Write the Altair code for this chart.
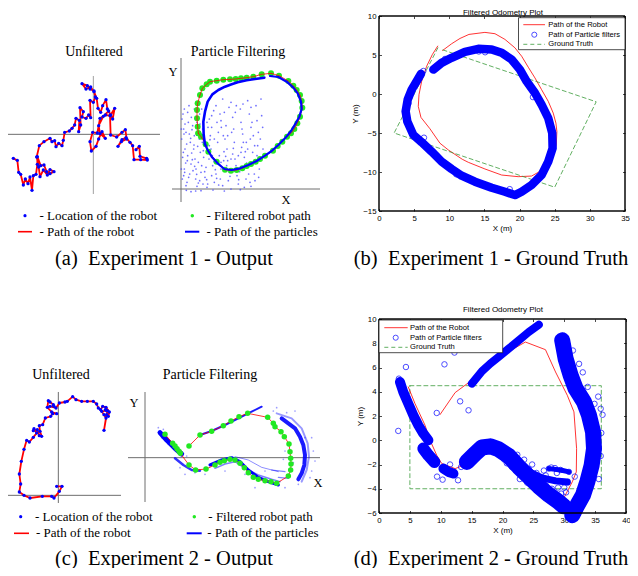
import altair as alt
import pandas as pd

SERIF = "Liberation Serif"
SANS = "Liberation Sans"

# ======================= DATA =======================
# (a) Experiment 1 - Unfiltered odometry (sketch units, origin at axis crossing)
A_UNF_PATH = [(-240,-72),(-228,-78),(-224,-114),(-218,-120),(-210,-152),(-204,-134),(-196,-148),(-190,-128),
    (-184,-168),(-180,-124),(-172,-120),(-168,-90),(-168,-67),(-158,-94),(-148,-92),(-140,-112),(-130,-118),
    (-118,-112),(-130,-106),(-138,-122),(-150,-107),(-160,-127),(-164,-98),(-170,-68),(-162,-34),(-148,-22),
    (-130,-12),(-124,-22),(-116,-19),(-112,-37),(-104,-27),(-94,-34),(-90,-18),(-86,6),(-72,10),(-64,18),
    (-56,28),(-52,48),(-42,42),(-44,8),(-38,28),(-40,80),(-30,68),(-34,52),(-22,48),(-14,58),(-8,50),
    (-10,102),(0,96),(6,112),(2,130),(-10,136),(-18,146),(-34,152),(-22,136),(-8,142),(2,128),(10,108),
    (14,78),(22,66),(28,86),(38,104),(42,76),(52,58),(64,78),(58,46),(46,70),(30,54),(16,26),(20,2),
    (36,-12),(26,8),(16,-14),(8,-36),(-6,-50),(-10,-22),(-2,6),(12,4),(20,48),(36,58),(50,56),(52,-2),
    (70,-8),(86,6),(96,14),(100,-14),(84,-22),(74,-36),(86,-16),(98,-10),(110,-24),(118,-34),(122,-76),
    (142,-76),(162,-77),(160,-72),(140,-66),(138,-36),(128,-46)]
A_UNF_AXES = {"h": [-259, 200], "v": [-179, 175]}

# (a) Particle filtering
A_PF_CLOUD = [(3,210),(8,180),(2,150),(12,120),(5,95),(10,60),(4,30),(15,10),(22,200),(25,165),(28,140),
    (20,100),(30,75),(26,45),(18,20),(35,190),(40,160),(38,120),(42,90),(36,55),(44,30),(48,8),(55,150),
    (58,110),(52,80),(60,50),(56,25),(65,180),(70,130),(68,95),(75,65),(72,35),(80,15),(85,210),(88,160),
    (90,120),(84,90),(95,70),(92,40),(100,20),(105,250),(108,200),(112,170),(110,140),(115,100),(120,60),
    (118,30),(125,10),(130,230),(135,190),(132,150),(138,120),(140,85),(145,50),(142,25),(150,260),
    (155,215),(158,180),(160,140),(155,105),(165,70),(168,40),(172,15),(178,240),(180,200),(185,165),
    (182,125),(190,95),(188,60),(195,30),(200,265),(205,225),(210,185),(208,150),(215,110),(212,75),
    (220,45),(225,250),(228,205),(232,170),(230,130),(238,95),(235,60),(240,270),(242,220),(20,230),
    (10,240),(62,240),(48,200),(98,235),(125,270),(78,5),(60,-5),(30,-8),(150,0),(190,5),(172,100),
    (200,120),(222,25),(15,170),(45,60),(105,45),(128,85),(163,230),(85,130),(32,108),(210,245),
    (66,15),(140,160),(176,52),(196,140),(120,205),(92,185),(50,128),(14,78),(8,40),(228,100),
    (6,225),(12,195),(9,165),(17,135),(7,110),(19,85),(11,50),(23,35),(31,215),(33,178),(29,152),
    (39,132),(34,88),(41,68),(47,44),(52,18),(57,195),(61,165),(64,140),(67,115),(62,70),(71,52),
    (77,28),(81,185),(87,148),(94,100),(99,82),(103,58),(107,32),(113,12),(117,225),(121,185),(127,160),
    (129,112),(134,98),(137,70),(147,38),(152,170),(157,122),(162,90),(167,58),(173,28),(183,180),
    (187,140),(193,112),(197,78),(203,45),(207,20),(213,200),(217,160),(221,130),(226,85),(233,35),
    (238,150),(245,185),(246,120),(166,250),(186,255),(144,245),(92,220),(78,200),(24,250),(1,180),
    (1,60),(16,-4),(44,-6),(96,-3),(130,-6),(178,-2),(210,8),(120,80),(70,160),(150,90),(100,150),
    (180,110),(40,240),(56,225)]
A_PF_ROBOT = [(52,167),(50,187),(48,212),(48,237),(50,257),(57,282),(64,302),(77,314),(87,322),(107,325),
    (127,328),(147,329),(164,330),(180,332),(197,334),(217,337),(242,344),(270,347),(294,340),(322,324),
    (337,310),(347,297),(357,282),(362,264),(364,244),(357,217),(349,197),(340,180),(330,167),(318,157),
    (304,142),(290,129),(276,115),(252,100),(237,90),(224,82),(210,75),(197,69),(184,62),(167,57),
    (150,55),(132,58),(107,82),(82,112),(74,134),(60,157),(52,167)]
A_PF_PART_1 = [(72,134),(68,162),(67,202),(72,232),(80,262),(94,284),(112,297),(132,307),(152,314),
    (170,320),(197,326),(222,330),(250,334)]
A_PF_PART_2 = [(267,339),(292,336),(317,322),(337,304),(350,287),(360,262),(362,240),(355,217),(344,197),
    (330,174),(312,152),(292,132),(272,114),(252,100),(227,84),(202,72),(177,62),(152,57),(130,60),
    (110,77),(92,97),(80,117),(72,134)]
A_PF_AXES = {"h": [-27, 417], "v": [-39, 393]}

# (b) Experiment 1 - Ground truth (metres)
B_ROBOT = [(9.05,5.58),(10.33,6.44),(11.52,7.12),(12.8,7.64),(15.07,7.9),(16.5,7.73),(17.92,7.0),
    (19.34,5.92),(20.29,4.85),(21.24,3.43),(22.19,2.06),(23.13,0.56),(24.08,-0.94),(24.79,-2.45),
    (25.17,-3.73),(25.31,-4.81),(25.22,-6.52),(24.56,-8.24),(23.61,-9.31),(22.66,-10.04),(21.71,-10.52),
    (19.81,-10.6),(17.45,-10.39),(15.07,-9.61),(12.71,-8.76),(11.85,-8.37),(9.86,-7.17),(8.67,-6.31),
    (7.25,-4.46),(5.97,-3.0),(5.59,-1.59),(5.69,-0.09),(6.07,1.63),(6.78,3.56),(7.59,5.06),(8.35,6.14)]
B_PARTICLES = [(7.73,3.13),(8.91,3.99),(10.33,4.64),(12.23,5.41),(14.13,5.79),(16.03,5.71),(17.45,5.28),
    (18.87,4.42),(20.05,3.13),(21.0,1.63),(22.19,0.13),(23.13,-1.37),(24.08,-3.09),(24.65,-5.02),
    (24.7,-6.95),(24.08,-8.67),(23.13,-10.39),(21.71,-11.67),(20.29,-12.53),(19.34,-12.96),(17.92,-12.53),
    (16.03,-12.02),(13.65,-11.24),(11.76,-10.47),(10.33,-9.61),(8.91,-8.67),(7.49,-7.38),(6.07,-6.18),
    (4.88,-5.24),(4.03,-3.52),(3.79,-2.23),(4.08,-0.73),(4.65,0.56),(5.36,1.63),(5.97,2.58)]
B_OUTLIERS = [(6.31,2.95),(24.6,-5.3),(18.6,-12.2),(15.1,5.35),(6.4,-5.6),(14.2,5.45),(4.2,-1.2),
    (24.4,-7.6),(11.0,-10.3),(21.9,-0.4),(9.4,4.5)]
B_TRUTH = [(9.1,5.65),(30.9,-1.0),(25.0,-11.95),(2.15,-5.0),(8.45,6.05)]
B_XLIM, B_YLIM = [0, 35], [-15, 10]
B_XTICKS = [0, 5, 10, 15, 20, 25, 30, 35]
B_YTICKS = [-15, -10, -5, 0, 5, 10]

# (c) Experiment 2 - Unfiltered
C_UNF_PATH = [(-5,27),(11,27),(3,12),(-13,-8),(-20,-3),(-48,-3),(-85,-8),(-103,0),(-117,10),(-113,34),
    (-117,64),(-111,102),(-103,138),(-95,165),(-87,160),(-75,174),(-65,187),(-73,200),(-75,194),(-63,197),
    (-57,179),(-50,177),(-55,192),(-57,209),(-47,212),(-39,232),(-23,237),(-17,245),(-5,245),(-20,250),
    (-33,264),(-30,284),(-25,280),(-15,272),(-13,267),(-25,267),(-7,262),(3,277),(20,280),(27,282),
    (43,296),(53,287),(70,282),(87,282),(105,282),(115,274),(120,262),(127,257),(133,267),(143,264),
    (153,250),(150,237),(145,254),(130,252),(137,242),(143,232),(137,195),(145,242),(147,254),(141,257)]
C_UNF_AXES = {"h": [-154, 188], "v": [-23, 310]}

# (c) Particle filtering
C_PF_ROBOT = [(60,70),(83,43),(90,35),(96,27),(102,19),(106,13),(132,-22),(152,-37),(183,-34),(210,-22),
    (225,-14),(238,-9),(255,-5),(270,-7),(285,-17),(298,-30),(310,-45),(325,-59),(340,-65),(360,-69),
    (378,-72),(395,-77),(430,-55),(437,-37),(438,-19),(437,-2),(435,18),(432,41),(418,63),(408,78),
    (390,93),(385,103),(368,121),(308,133),(282,123),(258,110),(235,96),(200,79),(165,68),(132,35)]
C_PF_STREAKS = {
    "s1": [(45,75),(65,53),(90,28),(110,11)],
    "s2": [(90,-2),(115,-22),(140,-37),(165,-39)],
    "s3": [(195,-22),(230,-7),(260,0),(285,-12),(310,-37),(340,-59),(370,-72),(400,-82)],
    "s4": [(210,-32),(240,-19),(270,-12),(300,-32),(340,-52),(380,-65),(405,-72)],
    "s5": [(270,3),(310,-7),(350,-29),(400,-42)],
    "s6": [(165,68),(200,80),(240,98),(280,118),(320,138),(350,153)],
    "s7": [(410,118),(430,103),(450,88),(465,63),(475,38),(480,8),(478,-22),(470,-47),(460,-65)],
    "s8": [(395,133),(440,118),(470,88),(488,43),(492,3),(485,-37),(470,-72)],
    "s9": [(380,-37),(420,-42)],
    "s10": [(400,-59),(430,-62)],
}
C_PF_SCATTER = [(40,90),(50,60),(120,-50),(105,-30),(330,-90),(420,-90),(460,-80),(500,-40),(505,20),
    (450,140),(395,150),(360,-40),(240,-40),(180,-50),(55,85),(70,40),(480,60),(445,-15),(420,20),
    (415,-5),(500,60),(510,-10),(495,-60),(385,140),(425,135),(300,-50),(150,-45),(125,5)]
C_PF_AXES = {"h": [-51, 525], "v": [-133, 197]}

# (d) Experiment 2 - Ground truth (metres)
D_ROBOT = [(4.74,4.4),(5.83,3.02),(7.45,1.24),(8.27,0.0),(9.35,-1.24),(10.16,-1.92),(12.33,-2.34),
    (13.69,-2.06),(15.58,-1.24),(17.75,-0.14),(19.92,-0.41),(22.09,-1.24),(25.34,-2.88),(27.51,-4.53),
    (28.86,-5.08),(29.95,-4.75),(31.3,-3.43),(31.95,-2.61),(32.0,-0.69),(31.57,2.34),(30.49,3.71),
    (28.59,5.63),(26.96,7.47),(23.71,8.1),(19.92,7.01),(15.04,4.95),(12.33,3.93),(9.89,2.12)]
D_BANDS = {
    "left": [(3.39,4.81),(3.93,3.98),(4.74,3.02),(5.56,2.06),(6.37,1.24),(7.18,0.55),(8.0,0.0)],
    "blob": [(7.18,-0.69),(8.0,-1.24),(8.97,-1.79)],
    "cluster": [(10.43,-2.34),(11.25,-2.61),(12.06,-2.75)],
    "hump": [(14.23,-1.79),(15.58,-1.1),(16.67,-0.6),(18.02,-0.5),(19.38,-0.75),(21.0,-1.3),(22.63,-2.2),
             (24.25,-3.0),(25.88,-3.8),(27.51,-4.5),(29.13,-5.1),(29.95,-5.45)],
    "branch1": [(22.09,-1.9),(24.25,-2.6),(26.42,-3.1),(28.59,-3.35),(30.5,-3.45)],
    "branch2": [(27.51,-2.34),(29.4,-2.45),(30.76,-2.61)],
    "top": [(15.04,4.67),(16.67,5.69),(18.02,6.32),(19.38,6.87),(21.0,7.55),(22.63,8.24),(24.25,8.93),(25.88,9.53)],
    "right": [(29.67,8.24),(30.22,6.73),(31.03,5.36),(31.84,4.26),(33.2,3.16),(34.01,2.06),(34.66,0.69),
              (34.82,-0.69),(34.44,-2.06),(33.74,-3.43),(33.03,-4.53),(32.11,-5.36),(31.3,-6.18)],
}
D_OUTLIERS = [(3.22,5.08),(4.36,6.04),(3.12,0.77),(10.6,6.26),(9.35,2.25),(13.14,3.21),(14.5,2.47),
    (12.22,7.23),(36.2,2.1),(35.9,2.6),(35.5,3.6),(36.0,0.6),(35.9,-1.3),(35.6,-3.2),(32.6,-4.6),
    (32.2,-5.4),(31.2,-5.9),(30.6,-6.0),(31.7,-3.0),(32.7,-4.0),(10.3,-3.25),(9.4,-3.0),(13.3,-2.2),
    (14.1,-1.9),(12.8,-3.3),(11.5,-2.0),(28.5,-2.3),(27.9,-2.25),(24.3,-2.4),(25.5,-2.7),(26.2,-3.3),
    (20.3,-1.6),(22.4,-1.2),(29.7,8.6),(29.2,8.1),(23.0,-2.8),(24.0,-3.5),(25.0,-3.3),(26.0,-4.2),
    (27.0,-3.7),(28.0,-4.0),(29.0,-3.9),(30.0,-3.9),(27.0,-2.9),(28.8,-2.7),(26.7,-2.5),(23.5,-1.6),
    (24.8,-2.0),(29.5,-4.4),(30.3,-4.3),(21.5,-2.2),(20.7,-1.9),(22.8,-3.2),(33.0,5.6),(32.4,6.3),
    (31.4,7.4),(33.8,4.4),(34.9,3.0)]
D_TRUTH = [(5,4.5),(36,4.5),(36,-4),(5,-4),(5,4.5)]
D_XLIM, D_YLIM = [0, 40], [-6, 10]
D_XTICKS = [0, 5, 10, 15, 20, 25, 30, 35, 40]
D_YTICKS = [-6, -4, -2, 0, 2, 4, 6, 8, 10]

# ======================= STYLE / LAYOUT =======================
W, H = 622, 560
RED, BLUE, GREEN, MGREEN = "#ff0000", "#0000ff", "#22e822", "#3a9a3a"
D_BAND_W = {"left": 10, "blob": 12, "cluster": 10, "hump": 16, "branch1": 7, "branch2": 5, "top": 8, "right": 16}
C_STREAK_STYLE = {"s1": (5, 1.0), "s2": (2.5, 0.8), "s3": (3, 1.0), "s4": (1.5, 0.5), "s5": (1, 0.45),
                  "s6": (2, 0.9), "s7": (4, 0.9), "s8": (2, 0.4), "s9": (1.2, 0.5), "s10": (1.2, 0.5)}


def lin(dom, rng):
    return alt.Scale(domain=dom, range=rng, nice=False, zero=False)


def sketch(ox, oy):
    # 3 sketch units per pixel, origin at (ox, oy)
    return (lin([0, 300], [ox, ox + 100]), lin([0, 300], [oy, oy - 100]))


SC = {
    "a1": sketch(85.33, 126.33),
    "a2": sketch(173, 181),
    "c1": sketch(50.33, 487.33),
    "c2": sketch(137, 449.67),
    "b": (lin(B_XLIM, [371, 617]), lin(B_YLIM, [203, 8])),
    "d": (lin(D_XLIM, [371, 618]), lin(D_YLIM, [505, 311])),
}
# pixel positions of the MATLAB axes boxes (for the inward tick axes)
BOX = {"b": dict(left=371, right=617, top=8, bottom=203), "d": dict(left=371, right=618, top=311, bottom=505)}


def frame(pairs):
    return pd.DataFrame({"x": [p[0] for p in pairs], "y": [p[1] for p in pairs], "i": list(range(len(pairs)))})


def enc(p, xaxis=None, yaxis=None):
    sx, sy = SC[p]
    return dict(x=alt.X("x:Q", scale=sx, axis=xaxis), y=alt.Y("y:Q", scale=sy, axis=yaxis))


def line(p, pairs, color, width, dash=None, opacity=1.0, xaxis=None, yaxis=None):
    kw = dict(color=color, strokeWidth=width, strokeCap="round", strokeJoin="round", opacity=opacity)
    if dash:
        kw["strokeDash"] = dash
    return alt.Chart(frame(pairs)).mark_line(**kw).encode(order="i:Q", **enc(p, xaxis, yaxis))


def dots(p, pairs, color, size, opacity=1.0):
    return alt.Chart(frame(pairs)).mark_circle(color=color, size=size, opacity=opacity).encode(**enc(p))


def rings(p, pairs, size=30):
    return alt.Chart(frame(pairs)).mark_point(shape="circle", filled=False, color=BLUE, size=size,
                                              strokeWidth=1).encode(**enc(p))


def axes_lines(p, ax, hcolor="#707070", vcolor="#8a8a8a"):
    sx, sy = SC[p]
    h = pd.DataFrame({"x": [ax["h"][0]], "x2": [ax["h"][1]], "y": [0]})
    v = pd.DataFrame({"x": [0], "y": [ax["v"][0]], "y2": [ax["v"][1]]})
    lh = alt.Chart(h).mark_rule(color=hcolor, strokeWidth=1).encode(
        x=alt.X("x:Q", scale=sx, axis=None), x2="x2:Q", y=alt.Y("y:Q", scale=sy, axis=None))
    lv = alt.Chart(v).mark_rule(color=vcolor, strokeWidth=1).encode(
        x=alt.X("x:Q", scale=sx, axis=None), y=alt.Y("y:Q", scale=sy, axis=None), y2="y2:Q")
    return [lh, lv]


def mat_axis(orient, offset, values, title):
    return alt.Axis(orient=orient, offset=offset, values=values, title=title, grid=False, domain=False,
                    ticks=False, tickSize=0, labelFont=SANS, labelFontSize=7.8, labelPadding=3,
                    labelFlush=False, labelOverlap=False, labelColor="black", format="d",
                    titleFont=SANS, titleFontSize=8, titleFontWeight="normal", titleColor="black",
                    titlePadding=3)


def tick_axis(orient, offset, values):
    # unlabeled axis used only to draw MATLAB-style inward ticks
    return alt.Axis(orient=orient, offset=offset, values=values, title=None, grid=False, domain=False,
                    labels=False, ticks=True, tickSize=2.5, tickWidth=0.7, tickColor="black")


def box(p, xlim, ylim, xaxis, yaxis):
    sx, sy = SC[p]
    df = pd.DataFrame({"x": [xlim[0]], "x2": [xlim[1]], "y": [ylim[0]], "y2": [ylim[1]]})
    return alt.Chart(df).mark_rect(fillOpacity=0, stroke="black", strokeWidth=0.7).encode(
        x=alt.X("x:Q", scale=sx, axis=xaxis), x2="x2:Q", y=alt.Y("y:Q", scale=sy, axis=yaxis), y2="y2:Q")


def inward_ticks(p, xlim, ylim, xt, yt):
    b = BOX[p]
    # top-oriented x axis sitting on the bottom edge, right-oriented y axis on the left edge
    l1 = box(p, xlim, ylim, tick_axis("top", -b["bottom"], xt), tick_axis("right", b["left"] - W, yt))
    # bottom-oriented x axis on the top edge, left-oriented y axis on the right edge
    l2 = box(p, xlim, ylim, tick_axis("bottom", b["top"] - H, xt), tick_axis("left", -b["right"], yt))
    return [l1, l2]


ONE = alt.Data(values=[{}])


def text(s, x, y, size, font=SERIF, align="center", baseline="middle"):
    return alt.Chart(ONE).mark_text(text=s, fontSize=size, font=font, align=align, baseline=baseline,
                                    color="black").encode(x=alt.value(x), y=alt.value(y))


def swatch_line(x0, x1, y, color, width, dash=None):
    kw = dict(color=color, strokeWidth=width)
    if dash:
        kw["strokeDash"] = dash
    return alt.Chart(ONE).mark_rule(**kw).encode(x=alt.value(x0), x2=alt.value(x1), y=alt.value(y))


def swatch_dot(x, y, color, size):
    return alt.Chart(ONE).mark_circle(color=color, size=size, opacity=1).encode(x=alt.value(x), y=alt.value(y))


def swatch_ring(x, y):
    return alt.Chart(ONE).mark_point(shape="circle", filled=False, color=BLUE, size=26,
                                     strokeWidth=1).encode(x=alt.value(x), y=alt.value(y))


def legend_box(x0, x1, y0, y1):
    return alt.Chart(ONE).mark_rect(fill="white", stroke="black", strokeWidth=0.7).encode(
        x=alt.value(x0), x2=alt.value(x1), y=alt.value(y0), y2=alt.value(y1))


layers = []

# ---------- (a) Unfiltered ----------
layers += axes_lines("a1", A_UNF_AXES, "#6e6e6e", "#a0a0a0")
layers += [line("a1", A_UNF_PATH, RED, 1.8), dots("a1", A_UNF_PATH, BLUE, 11)]

# ---------- (a) Particle filtering ----------
layers += axes_lines("a2", A_PF_AXES, "#6e6e6e", "#6e6e6e")
layers += [dots("a2", A_PF_CLOUD, "#4a4aff", 3, 0.8),
           dots("a2", A_PF_ROBOT, GREEN, 36),
           line("a2", A_PF_ROBOT, RED, 0.8),
           line("a2", A_PF_PART_1, BLUE, 2.6),
           line("a2", A_PF_PART_2, BLUE, 2.2)]

# ---------- (c) Unfiltered ----------
layers += axes_lines("c1", C_UNF_AXES, "#6e6e6e", "#6e6e6e")
layers += [line("c1", C_UNF_PATH, RED, 1.8), dots("c1", C_UNF_PATH, BLUE, 11)]

# ---------- (c) Particle filtering ----------
layers += axes_lines("c2", C_PF_AXES, "#6e6e6e", "#6e6e6e")
layers += [dots("c2", C_PF_SCATTER, "#5a5aff", 3, 0.6)]
for k, pts in C_PF_STREAKS.items():
    w, op = C_STREAK_STYLE[k]
    layers.append(line("c2", pts, BLUE, w, opacity=op))
layers += [line("c2", C_PF_ROBOT, RED, 0.8), dots("c2", C_PF_ROBOT, GREEN, 30)]

# ---------- (b) MATLAB plot ----------
layers += [line("b", B_ROBOT, RED, 0.8),
           line("b", B_TRUTH, MGREEN, 0.8, dash=[4, 3]),
           line("b", B_PARTICLES, BLUE, 8.5),
           rings("b", B_PARTICLES), rings("b", B_OUTLIERS),
           box("b", B_XLIM, B_YLIM, mat_axis("bottom", -(H - BOX["b"]["bottom"]), B_XTICKS, "X (m)"),
               mat_axis("left", -BOX["b"]["left"], B_YTICKS, "Y (m)"))]
layers += inward_ticks("b", B_XLIM, B_YLIM, B_XTICKS, B_YTICKS)

# ---------- (d) MATLAB plot ----------
layers += [line("d", D_TRUTH, MGREEN, 0.8, dash=[4, 3]), line("d", D_ROBOT, RED, 0.8)]
for k, pts in D_BANDS.items():
    layers.append(line("d", pts, BLUE, D_BAND_W[k]))
for k, pts in D_BANDS.items():
    layers.append(rings("d", pts))
layers += [rings("d", D_OUTLIERS),
           box("d", D_XLIM, D_YLIM, mat_axis("bottom", -(H - BOX["d"]["bottom"]), D_XTICKS, "X (m)"),
               mat_axis("left", -BOX["d"]["left"], D_YTICKS, "Y (m)"))]
layers += inward_ticks("d", D_XLIM, D_YLIM, D_XTICKS, D_YTICKS)

# ---------- legends of the MATLAB plots ----------
layers += [legend_box(510.5, 617, 9.7, 41.7),
           swatch_line(515.3, 537, 16.7, RED, 0.8), swatch_ring(526.3, 26.7),
           swatch_line(515.3, 537, 36.3, MGREEN, 0.8, dash=[4, 3]),
           text("Path of the Robot", 540.3, 16.7, 7.6, SANS, "left"),
           text("Path of Particle filters", 540.3, 26.7, 7.6, SANS, "left"),
           text("Ground Truth", 540.3, 36.3, 7.6, SANS, "left")]
layers += [legend_box(371, 494.7, 312, 344.7),
           swatch_line(376.3, 399.7, 319.7, RED, 0.8), swatch_ring(387.7, 329.7),
           swatch_line(376.3, 399.7, 339.3, MGREEN, 0.8, dash=[4, 3]),
           text("Path of the Robot", 402, 319.7, 7.6, SANS, "left"),
           text("Path of Particle filters", 402, 329.7, 7.6, SANS, "left"),
           text("Ground Truth", 402, 339.3, 7.6, SANS, "left")]

# ---------- titles / labels ----------
layers += [text("Filtered Odometry Plot", 495, 4.5, 8, SANS),
           text("Filtered Odometry Plot", 495, 302, 8, SANS),
           text("Unfiltered", 86, 44, 14), text("Particle Filtering", 230, 44, 14),
           text("Y", 165, 64, 12.5), text("X", 278, 192, 12.5),
           text("Unfiltered", 53, 367, 14), text("Particle Filtering", 202, 367, 14),
           text("Y", 126, 395, 12.5), text("X", 310, 475, 12.5)]

# ---------- sketch legends ----------
layers += [swatch_dot(17, 207.7, BLUE, 10), text("- Location of the robot", 31.5, 207.7, 13, align="left"),
           swatch_line(10, 24, 223.7, RED, 1.6), text("- Path of the robot", 31.5, 223.7, 13, align="left"),
           swatch_dot(184.3, 207.7, GREEN, 12), text("- Filtered robot path", 198.5, 207.7, 13, align="left"),
           swatch_line(177, 191.3, 223.7, BLUE, 2), text("- Path of the particles", 198.5, 223.7, 13, align="left")]
layers += [swatch_dot(12.7, 508.7, BLUE, 10), text("- Location of the robot", 27, 508.7, 13, align="left"),
           swatch_line(6, 21, 525.3, RED, 1.6), text("- Path of the robot", 28, 525.3, 13, align="left"),
           swatch_dot(186.3, 508.7, GREEN, 12), text("- Filtered robot path", 200.3, 508.7, 13, align="left"),
           swatch_line(178.7, 193.7, 525.3, BLUE, 2), text("- Path of the particles", 199.3, 525.3, 13, align="left")]

# ---------- captions ----------
layers += [text("(a)\u2002Experiment 1 - Output", 156, 257, 20.5, baseline="alphabetic"),
           text("(b)\u2002Experiment 1 - Ground Truth", 483, 257, 20.5, baseline="alphabetic"),
           text("(c)\u2002Experiment 2 - Output", 156, 557, 20.5, baseline="alphabetic"),
           text("(d)\u2002Experiment 2 - Ground Truth", 483, 557, 20.5, baseline="alphabetic")]

chart = alt.layer(*layers).resolve_scale(x="independent", y="independent").properties(
    width=W, height=H, padding=0, autosize=alt.AutoSizeParams(type="none"), background="white"
).configure_view(stroke=None)

chart.save("out.html", embed_options={"renderer": "svg", "actions": False})
